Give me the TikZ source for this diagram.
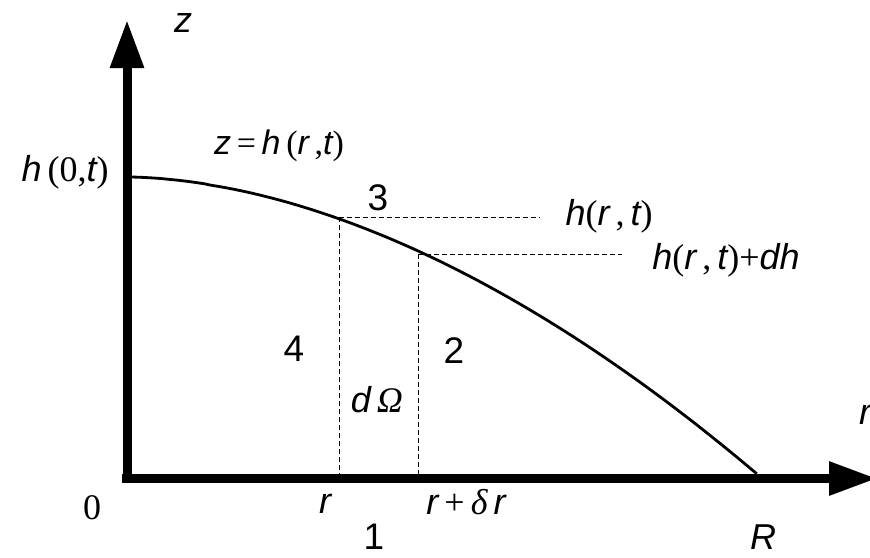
\documentclass[tikz,border=0pt]{standalone}
\usepackage{fontspec}
\setmainfont{Liberation Serif}
\newfontfamily\ari{Liberation Sans}
\usetikzlibrary{arrows.meta}
\newcommand\vi[1]{{\ari\itshape #1}}
\newcommand\si[1]{{\itshape #1}}
\tikzset{
  axis/.style={line width=9pt, -{Triangle[length=48pt,width=32pt]}},
  curve/.style={line width=2.8pt},
  guide/.style={line width=0.8pt, dash pattern=on 5pt off 3pt},
  lab/.style={inner sep=0pt, font=\fontsize{36}{40}\selectfont},
  digit/.style={inner sep=0pt, font=\ari\fontsize{37}{40}\selectfont}
}
\begin{document}
\begin{tikzpicture}[x=1pt,y=-1pt]
\useasboundingbox (0,0) rectangle (870,557);
% axes
\coordinate (O) at (127,478.5);
\coordinate (ztip) at (127,20);
\coordinate (rtip) at (877,478.5);
\draw[axis] (127,483) -- (ztip);
\draw[axis] (122,478.5) -- (rtip);
% curve z = h(r,t)
\draw[curve] plot[domain=0.0063:1, samples=120, smooth] ({127+630*\x}, {474-297*(1-pow(\x,1.8))});
% guide lines
\coordinate (A) at (339,217);
\coordinate (B) at (418,254);
\coordinate (Aend) at (540,217);
\coordinate (Bend) at (622,254);
\coordinate (Afoot) at (339,474);
\coordinate (Bfoot) at (418,474);
\draw[guide] (A) -- (Aend);
\draw[guide] (B) -- (Bend);
\draw[guide] (A) -- (Afoot);
\draw[guide] (B) -- (Bfoot);
% labels
\node[lab] (zlab) at (183,23) {\vi{z}};
\node[lab] (h0) at (65,172) {\vi{h}\,(0,\vi{t})};
\node[lab, font=\fontsize{34}{38}\selectfont] (eq) at (279,146) {\vi{z}\,=\,\vi{h}\,(\vi{r}\,,\vi{t})};
\node[digit] (three) at (378,198) {3};
\node[lab] (hrt) at (609,216) {\vi{h}(\vi{r}\,,\,\vi{t})};
\node[lab] (hrtdh) at (726,260) {\vi{h}(\vi{r}\,,\,\vi{t})+\vi{dh}};
\node[digit] (four) at (294,349) {4};
\node[digit] (two) at (454,351) {2};
\node[lab] (dO) at (377,400) {\vi{d}\,\si{Ω}};
\node[lab] (zero) at (92,508) {0};
\node[lab] (rl) at (325,504) {\vi{r}};
\node[lab] (rdr) at (466,502) {\vi{r}\,+\,\si{δ}\,\vi{r}};
\node[digit] (one) at (374,537) {1};
\node[lab] (R) at (763,537) {\vi{R}};
\node[lab] (rax) at (865,415) {\vi{r}};
\end{tikzpicture}
\end{document}
